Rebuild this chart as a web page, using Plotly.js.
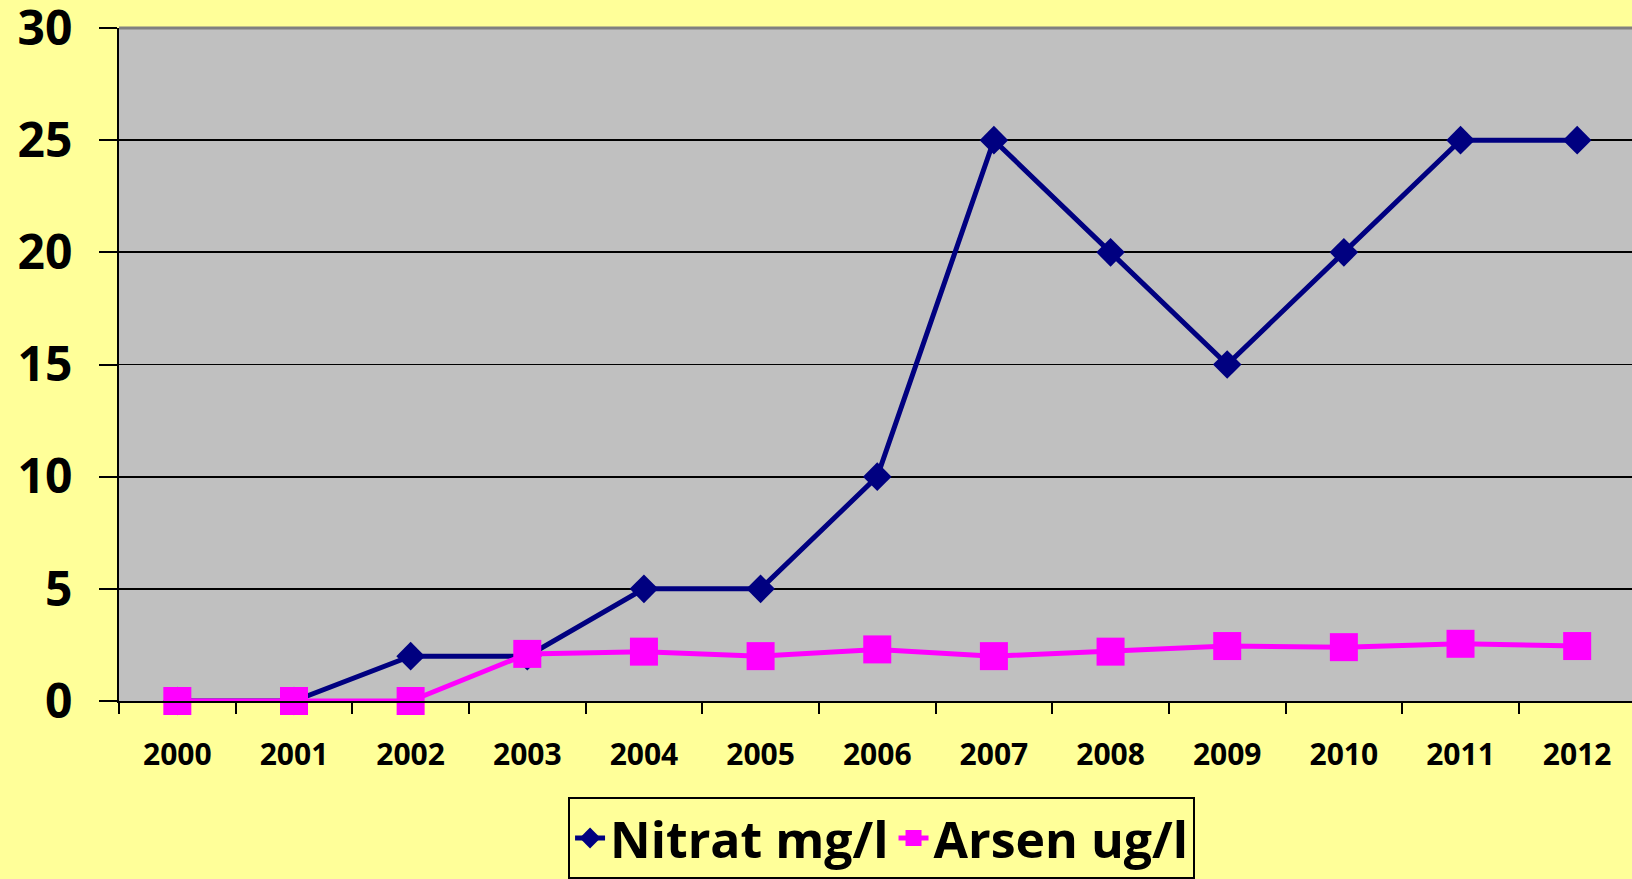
<!DOCTYPE html>
<html>
<head>
<meta charset="utf-8">
<script src="https://cdn.plot.ly/plotly-3.0.1.min.js"></script>
<style>html,body{margin:0;padding:0;background:#FFFF99;}#chart{width:1632px;height:879px;}</style>
</head>
<body>
<div id="chart"></div>
<script>
const years = ['2000','2001','2002','2003','2004','2005','2006','2007','2008','2009','2010','2011','2012'];
const nitrat = [0, 0, 2, 2, 5, 5, 10, 25, 20, 15, 20, 25, 25];
const arsen = [0, 0, 0, 2.1, 2.2, 2.0, 2.3, 2.0, 2.2, 2.45, 2.4, 2.55, 2.45];
const yTicks = [0, 5, 10, 15, 20, 25, 30];

const font = "'Open Sans', 'DejaVu Sans', sans-serif";

const traces = [
  {
    x: years, y: nitrat, name: 'Nitrat mg/l', type: 'scatter', mode: 'lines+markers',
    line: {color: '#000080', width: 5},
    marker: {symbol: 'diamond', size: 22, color: '#000080'},
    cliponaxis: false
  },
  {
    x: years, y: arsen, name: 'Arsen ug/l', type: 'scatter', mode: 'lines+markers',
    line: {color: '#FF00FF', width: 5},
    marker: {symbol: 'square', size: 28, color: '#FF00FF'},
    cliponaxis: false
  }
];

const layout = {
  width: 1632, height: 879,
  paper_bgcolor: '#FFFF99',
  plot_bgcolor: '#C0C0C0',
  margin: {l: 119, r: 0, t: 28, b: 173},
  showlegend: true,
  font: {family: font, color: '#000'},
  xaxis: {
    type: 'category',
    range: [-0.5, 12.47],
    tickson: 'boundaries',
    ticks: 'outside', ticklen: 11, tickwidth: 2, tickcolor: '#000',
    showline: true, linecolor: '#000', linewidth: 2,
    showgrid: false, zeroline: false,
    tickfont: {family: font, size: 30, color: '#000', weight: 'bold'},
    ticklabelstandoff: 26,
    ticklabeloverflow: 'allow'
  },
  yaxis: {
    range: [0, 30],
    tickvals: yTicks,
    ticktext: yTicks.map(String),
    ticks: 'outside', ticklen: 18, tickwidth: 2, tickcolor: '#000',
    showline: true, linecolor: '#000', linewidth: 2,
    showgrid: true, gridcolor: '#000', gridwidth: 1.8,
    zeroline: false,
    tickfont: {family: font, size: 48, color: '#000', weight: 'bold'},
    ticklabelstandoff: 17,
    ticklabeloverflow: 'allow'
  },
  shapes: [
    {type: 'line', xref: 'paper', yref: 'paper', x0: 0, x1: 1, y0: 1, y1: 1,
     line: {color: '#808080', width: 3}}
  ],
  legend: {
    orientation: 'h',
    x: 0.504, xanchor: 'center',
    y: -0.143, yanchor: 'top',
    bgcolor: '#FFFF99',
    bordercolor: '#000', borderwidth: 2,
    font: {family: font, size: 50, color: '#000', weight: 'bold'},
    itemsizing: 'trace'
  }
};

Plotly.newPlot('chart', traces, layout, {displayModeBar: false, staticPlot: true});
</script>
</body>
</html>
